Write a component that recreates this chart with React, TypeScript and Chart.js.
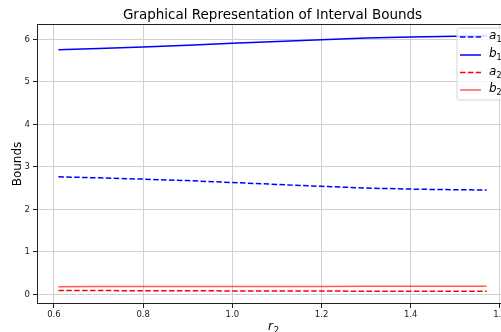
import React, { useEffect, useRef } from "react";
import { Chart, registerables } from "chart.js";

Chart.register(...registerables);

const xValues = [0.61, 0.7, 0.8, 0.9, 1.0, 1.1, 1.2, 1.3, 1.4, 1.5, 1.57];
const a1Values = [2.765, 2.74, 2.71, 2.675, 2.63, 2.585, 2.54, 2.5, 2.475, 2.46, 2.455];
const b1Values = [5.755, 5.785, 5.82, 5.86, 5.905, 5.95, 5.99, 6.03, 6.055, 6.07, 6.075];
const a2Values = [0.09, 0.088, 0.085, 0.083, 0.08, 0.078, 0.076, 0.074, 0.072, 0.071, 0.07];
const b2Values = [0.18, 0.181, 0.182, 0.183, 0.184, 0.185, 0.186, 0.187, 0.188, 0.189, 0.19];
const xTicks = [0.6, 0.8, 1.0, 1.2, 1.4, 1.6];
const yTicks = [0, 1, 2, 3, 4, 5, 6];
const seriesNames = ["a₁", "b₁", "a₂", "b₂"];

const W = 530;
const H = 345;
const FONT = "'DejaVu Sans', sans-serif";

export default function App() {
  const ref = useRef<HTMLCanvasElement | null>(null);
  useEffect(() => {
    if (!ref.current) return;
    const toPts = (ys: number[]) => xValues.map((x, i) => ({ x, y: ys[i] }));
    const colors = ["#0000ff", "#0000ff", "#ff0000", "rgba(255,0,0,0.65)"];
    const dashes = [[5.5, 2.4], [], [5.5, 2.4], []];
    const vals = [a1Values, b1Values, a2Values, b2Values];

    const deco = {
      id: "deco",
      afterDatasetsDraw(chart: any) {
        const { ctx, chartArea: a } = chart;
        ctx.save();
        ctx.strokeStyle = "#222";
        ctx.lineWidth = 1;
        ctx.strokeRect(a.left + 0.5, a.top + 0.5, a.right - a.left - 1, a.bottom - a.top - 1);
        ctx.restore();
      },
      afterDraw(chart: any) {
        const { ctx, chartArea: a } = chart;
        ctx.save();
        // title
        ctx.fillStyle = "#000";
        ctx.font = `13.5px ${FONT}`;
        ctx.textAlign = "center";
        ctx.textBaseline = "alphabetic";
        ctx.fillText("Graphical Representation of Interval Bounds", (a.left + a.right) / 2, 19);
        // y label
        ctx.save();
        ctx.translate(21, (a.top + a.bottom) / 2);
        ctx.rotate(-Math.PI / 2);
        ctx.font = `12px ${FONT}`;
        ctx.fillText("Bounds", 0, 0);
        ctx.restore();
        // x label
        ctx.font = `italic 12px ${FONT}`;
        ctx.fillText("r", (a.left + a.right) / 2 - 2, 330);
        ctx.font = `8.5px ${FONT}`;
        ctx.fillText("2", (a.left + a.right) / 2 + 4, 333);
        // legend
        const lx = 457, ly = 28, lw = 48, lh = 72;
        ctx.beginPath();
        const r = 2;
        ctx.moveTo(lx + r, ly);
        ctx.lineTo(lx + lw - r, ly);
        ctx.quadraticCurveTo(lx + lw, ly, lx + lw, ly + r);
        ctx.lineTo(lx + lw, ly + lh - r);
        ctx.quadraticCurveTo(lx + lw, ly + lh, lx + lw - r, ly + lh);
        ctx.lineTo(lx + r, ly + lh);
        ctx.quadraticCurveTo(lx, ly + lh, lx, ly + lh - r);
        ctx.lineTo(lx, ly + r);
        ctx.quadraticCurveTo(lx, ly, lx + r, ly);
        ctx.fillStyle = "rgba(255,255,255,0.8)";
        ctx.fill();
        ctx.strokeStyle = "#d6d6d6";
        ctx.lineWidth = 1;
        ctx.stroke();
        const rows = [37, 55, 72.5, 90];
        seriesNames.forEach((name, i) => {
          const y = rows[i];
          ctx.beginPath();
          ctx.setLineDash(dashes[i]);
          ctx.strokeStyle = colors[i];
          ctx.lineWidth = 1.5;
          ctx.moveTo(460, y);
          ctx.lineTo(481, y);
          ctx.stroke();
          ctx.setLineDash([]);
          ctx.fillStyle = "#000";
          ctx.textAlign = "left";
          ctx.textBaseline = "middle";
          ctx.font = `italic 12px ${FONT}`;
          ctx.fillText(name.charAt(0), 489, y - 1);
          ctx.font = `8px ${FONT}`;
          ctx.fillText(name === "a₁" || name === "b₁" ? "1" : "2", 496.5, y + 3);
        });
        ctx.restore();
      },
    };

    const chart = new Chart(ref.current, {
      type: "line",
      data: {
        datasets: vals.map((v, i) => ({
          label: seriesNames[i],
          data: toPts(v),
          borderColor: colors[i],
          borderWidth: 1.5,
          borderDash: dashes[i],
          pointRadius: 0,
          fill: false,
          tension: 0,
        })),
      },
      options: {
        animation: false,
        responsive: false,
        layout: { padding: { left: 0, top: 24, right: W - 508, bottom: 0 } },
        plugins: { legend: { display: false }, title: { display: false }, tooltip: { enabled: false } },
        scales: {
          x: {
            type: "linear",
            min: 0.562,
            max: 1.618,
            afterFit: (s: any) => { s.height = H - 304; },
            afterBuildTicks: (s: any) => { s.ticks = xTicks.map((v) => ({ value: v })); },
            grid: { color: "#d0d0d0", lineWidth: 1, tickColor: "#222", tickLength: 4, drawTicks: true },
            border: { display: false },
            ticks: {
              color: "#222",
              padding: 2,
              maxRotation: 0,
              autoSkip: false,
              font: { family: FONT, size: 8.5 },
              callback: (v: any) => Number(v).toFixed(1),
            },
          },
          y: {
            type: "linear",
            min: -0.228,
            max: 6.36,
            afterFit: (s: any) => { s.width = 37; },
            afterBuildTicks: (s: any) => { s.ticks = yTicks.map((v) => ({ value: v })); },
            grid: { color: "#d0d0d0", lineWidth: 1, tickColor: "#222", tickLength: 4, drawTicks: true },
            border: { display: false },
            ticks: {
              color: "#222",
              padding: 3,
              autoSkip: false,
              font: { family: FONT, size: 8.5 },
              callback: (v: any) => String(v),
            },
          },
        },
      },
      plugins: [deco],
    });
    return () => chart.destroy();
  }, []);

  return (
    <div style={{ position: "fixed", left: 0, top: 0, width: W, height: H, background: "#fff" }}>
      <canvas ref={ref} width={W} height={H} style={{ width: W, height: H, display: "block" }} />
    </div>
  );
}
